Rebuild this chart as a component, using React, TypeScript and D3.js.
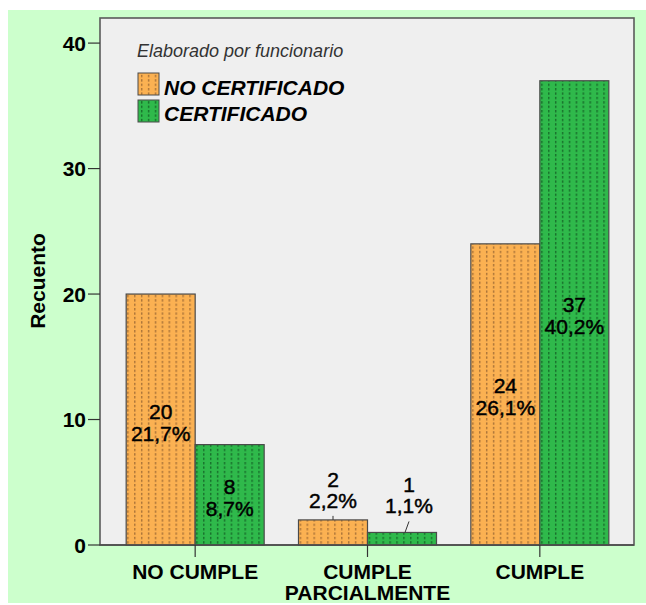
import React from "react";
import * as d3 from "d3";

const categories = ["NO CUMPLE", "CUMPLE\nPARCIALMENTE", "CUMPLE"];
const seriesNames = ["NO CERTIFICADO", "CERTIFICADO"];
const noCertificado = [20, 2, 24];
const certificado = [8, 1, 37];
const noCertificadoPct = ["21,7%", "2,2%", "26,1%"];
const certificadoPct = ["8,7%", "1,1%", "40,2%"];
const yTicks = [0, 10, 20, 30, 40];
const legendTitle = "Elaborado por funcionario";
const yTitle = "Recuento";

const FONT = "'Liberation Sans', Arial, sans-serif";
const colors = ["#fbb152", "#2fb94b"];
const dotColors = ["#9a6632", "#135f25"];

export default function App() {
  const W = 646, H = 605;
  const plot = { left: 100, right: 634, top: 18, bottom: 545 };
  const y = d3.scaleLinear().domain([0, 42]).range([plot.bottom, plot.top]);
  const x0 = d3.scaleBand<string>().domain(categories).range([109, 626]).padding(0);
  const barW = 69;
  const x1 = d3.scaleBand<string>().domain(seriesNames).range([0, barW * 2]).padding(0);
  const series = [
    { name: seriesNames[0], values: noCertificado, pct: noCertificadoPct },
    { name: seriesNames[1], values: certificado, pct: certificadoPct },
  ];

  return (
    <svg width={W} height={H} style={{ position: "absolute", left: 0, top: 0 }}>
      <defs>
        {series.map((s, i) => (
          <pattern key={i} id={`pat${i}`} patternUnits="userSpaceOnUse" width={6.9} height={4.4} x={0} y={0}>
            <rect width={6.9} height={4.4} fill={colors[i]} />
            <rect x={3} y={0} width={1.4} height={2.4} fill={dotColors[i]} opacity={0.85} />
          </pattern>
        ))}
      </defs>
      <rect x={8} y={10} width={W - 8} height={593} fill="#ccffcc" />
      <rect
        x={plot.left}
        y={plot.top}
        width={plot.right - plot.left}
        height={plot.bottom - plot.top}
        fill="#efefef"
        stroke="#5a5a5a"
        strokeWidth={1.6}
      />
      {/* bars */}
      {categories.map((c, ci) => {
        const cx = (x0(c) as number) + x0.bandwidth() / 2;
        const gx = cx - barW;
        return series.map((s, si) => {
          const v = s.values[ci];
          const bx = gx + (x1(s.name) as number);
          const by = y(v);
          return (
            <rect
              key={`${ci}-${si}`}
              x={bx}
              y={by}
              width={x1.bandwidth()}
              height={y(0) - by}
              fill={`url(#pat${si})`}
              stroke="#4a4a4a"
              strokeWidth={1.2}
            />
          );
        });
      })}
      {/* axis line over bars */}
      <line x1={plot.left} x2={plot.right} y1={plot.bottom} y2={plot.bottom} stroke="#4a4a4a" strokeWidth={1.6} />
      {/* labels */}
      {categories.map((c, ci) => {
        const cx = (x0(c) as number) + x0.bandwidth() / 2;
        const gx = cx - barW;
        return series.map((s, si) => {
          const v = s.values[ci];
          const bx = gx + (x1(s.name) as number);
          const bcx = bx + x1.bandwidth() / 2;
          const by = y(v);
          if (v >= 5) {
            const mid = (by + y(0)) / 2;
            return (
              <text key={`l${ci}-${si}`} fontFamily={FONT} fontSize={21} textAnchor="middle" fill="#000" stroke="#000" strokeWidth={0.45}>
                <tspan x={bcx} y={mid - 1}>{v}</tspan>
                <tspan x={bcx} y={mid + 21}>{s.pct[ci]}</tspan>
              </text>
            );
          }
          const dx = si === 0 ? 0 : 7;
          const gap = si === 0 ? 5 : 12;
          const lineTop = by - gap;
          const base2 = lineTop - 7;
          return (
            <g key={`l${ci}-${si}`}>
              <line x1={bcx + dx} y1={lineTop + 1} x2={bcx + (si === 0 ? 0 : 3)} y2={by} stroke="#333" strokeWidth={1} />
              <text fontFamily={FONT} fontSize={21} textAnchor="middle" fill="#000" stroke="#000" strokeWidth={0.45}>
                <tspan x={bcx + dx} y={base2 - 21}>{v}</tspan>
                <tspan x={bcx + dx} y={base2}>{s.pct[ci]}</tspan>
              </text>
            </g>
          );
        });
      })}
      {/* y axis ticks */}
      {yTicks.map((t) => (
        <g key={t}>
          <line x1={88} x2={plot.left} y1={y(t)} y2={y(t)} stroke="#333" strokeWidth={1.2} />
          <text x={86} y={y(t)} dy="0.36em" textAnchor="end" fontFamily={FONT} fontSize={21} fontWeight="bold" fill="#000">
            {t}
          </text>
        </g>
      ))}
      {/* x ticks & labels */}
      {categories.map((c) => {
        const cx = (x0(c) as number) + x0.bandwidth() / 2;
        const lines = c.split("\n");
        return (
          <g key={c}>
            <line x1={cx} x2={cx} y1={plot.bottom} y2={plot.bottom + 12} stroke="#333" strokeWidth={1.2} />
            <text textAnchor="middle" fontFamily={FONT} fontSize={21} fontWeight="bold" fill="#000">
              {lines.map((l, i) => (
                <tspan key={i} x={cx} y={579 + i * 21}>{l}</tspan>
              ))}
            </text>
          </g>
        );
      })}
      {/* y title */}
      <text
        transform={`translate(45, 281) rotate(-90)`}
        textAnchor="middle"
        fontFamily={FONT}
        fontSize={21}
        fontWeight="bold"
        fill="#000"
      >
        {yTitle}
      </text>
      {/* legend */}
      <text x={137} y={57} fontFamily={FONT} fontSize={18} fontStyle="italic" fill="#333">
        {legendTitle}
      </text>
      {series.map((s, i) => (
        <g key={s.name}>
          <rect x={138} y={73 + i * 27} width={21} height={22} fill={`url(#pat${i})`} stroke="#4a4a4a" strokeWidth={1} />
          <text x={164} y={95 + i * 26} fontFamily={FONT} fontSize={21} fontWeight="bold" fontStyle="italic" fill="#000">
            {s.name}
          </text>
        </g>
      ))}
    </svg>
  );
}
